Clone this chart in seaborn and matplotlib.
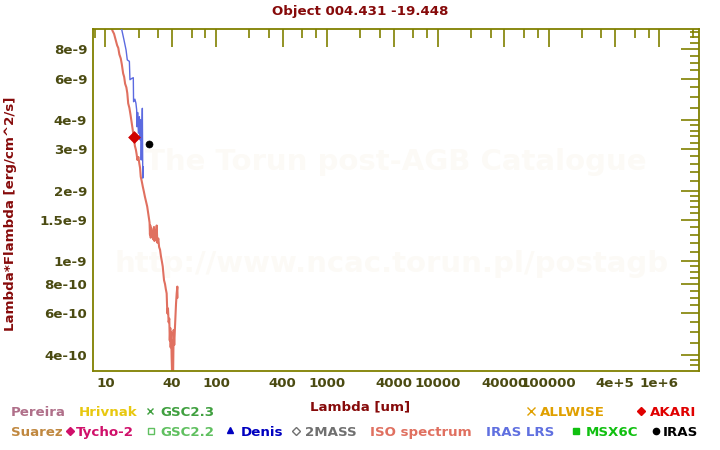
import matplotlib
matplotlib.use("Agg")
import matplotlib.pyplot as plt
import seaborn as sns
import pandas as pd
from matplotlib.ticker import FixedLocator, FixedFormatter, NullFormatter

# ---------------- data ----------------
iso_wl = [11.2, 11.6, 12.0, 12.3, 12.8, 13.1, 13.4, 13.8, 14.1, 14.5, 14.8, 15.1, 15.5,
          15.8, 16.1, 16.5, 16.9, 17.3, 17.7, 18.2, 18.5, 18.9, 19.2, 19.5, 19.9, 20.3,
          20.6, 20.9, 21.3, 21.8, 22.3, 22.8, 23.3, 23.9, 24.4, 24.9, 25.1, 25.3, 25.5,
          25.7, 26.0, 26.3, 26.8, 27.1, 27.5, 27.8, 28.2, 28.6, 29.1, 29.5, 30.1, 30.6,
          31.2, 31.8, 32.4, 33.0, 33.5, 33.9, 34.6, 35.2, 35.8, 36.1, 36.3, 36.8, 37.3,
          37.8, 38.2, 38.6, 38.9, 39.3, 39.7, 40.1, 40.5, 40.9, 41.4, 41.9, 42.6, 43.1,
          43.5, 44.1, 44.7, 44.9]
iso_flux = [1.02e-8, 9.6e-9, 9.3e-9, 8.9e-9, 8.3e-9, 8.1e-9, 7.6e-9, 7.3e-9, 6.9e-9, 6.3e-9,
            6.1e-9, 5.7e-9, 5.5e-9, 5.2e-9, 4.7e-9, 4.5e-9, 4.2e-9, 3.9e-9, 3.62e-9, 3.29e-9,
            3.1e-9, 2.98e-9, 2.85e-9, 2.70e-9, 2.78e-9, 2.6e-9, 2.5e-9, 2.29e-9, 2.2e-9,
            2.08e-9, 1.98e-9, 1.88e-9, 1.80e-9, 1.71e-9, 1.6e-9, 1.50e-9, 1.46e-9, 1.30e-9,
            1.42e-9, 1.26e-9, 1.38e-9, 1.30e-9, 1.34e-9, 1.24e-9, 1.40e-9, 1.22e-9, 1.35e-9,
            1.25e-9, 1.42e-9, 1.20e-9, 1.25e-9, 1.15e-9, 1.12e-9, 1.05e-9, 1.0e-9, 9.5e-10,
            8.8e-10, 8.3e-10, 8.0e-10, 7.6e-10, 7.3e-10, 6.5e-10, 6.0e-10, 6.3e-10, 5.5e-10,
            5.7e-10, 4.6e-10, 5.2e-10, 4.3e-10, 5.0e-10, 3.9e-10, 3.3e-10, 4.6e-10, 3.2e-10,
            5.1e-10, 4.4e-10, 5.3e-10, 6.0e-10, 6.6e-10, 7.3e-10, 7.8e-10, 7.0e-10]

lrs_wl = [13.9, 14.05, 14.75, 15.4, 15.8, 16.5, 16.7, 17.3, 17.9, 18.0, 18.5, 18.9, 19.2,
          19.3, 19.6, 19.9, 20.3, 20.6, 20.8, 21.1, 21.4, 21.6, 21.8, 22.0]
lrs_flux = [1.0e-8, 9.73e-9, 8.76e-9, 7.94e-9, 7.2e-9, 7.1e-9, 5.93e-9, 6.0e-9, 6.05e-9,
            4.78e-9, 4.9e-9, 4.71e-9, 4.41e-9, 3.74e-9, 4.3e-9, 3.51e-9, 4.13e-9, 3.29e-9,
            4.0e-9, 2.70e-9, 3.6e-9, 4.48e-9, 2.26e-9, 2.53e-9]

akari_wl = [18.0]
akari_flux = [3.38e-9]
iras_wl = [25.0]
iras_flux = [3.15e-9]

x_major = [10, 40, 100, 400, 1000, 4000, 1e4, 4e4, 1e5, 4e5, 1e6]
x_major_labels = ["10", "40", "100", "400", "1000", "4000", "10000", "40000",
                  "100000", "4e+5", "1e+6"]
x_minor = [8, 20, 30, 60, 80, 200, 300, 600, 800, 2000, 3000, 6000, 8000, 2e4, 3e4,
           6e4, 8e4, 2e5, 3e5, 6e5, 8e5, 2e6]
y_major = [4e-10, 6e-10, 8e-10, 1e-9, 1.5e-9, 2e-9, 3e-9, 4e-9, 6e-9, 8e-9]
y_major_labels = ["4e-10", "6e-10", "8e-10", "1e-9", "1.5e-9", "2e-9", "3e-9",
                  "4e-9", "6e-9", "8e-9"]
y_minor = [3.6e-10, 3.8e-10, 4.5e-10, 5e-10, 5.5e-10, 6.5e-10, 7e-10, 7.5e-10, 8.5e-10,
           9e-10, 9.5e-10, 1.1e-9, 1.2e-9, 1.3e-9, 1.4e-9, 1.6e-9, 1.7e-9, 1.8e-9, 1.9e-9,
           2.2e-9, 2.4e-9, 2.6e-9, 2.8e-9, 3.2e-9, 3.4e-9, 3.6e-9, 3.8e-9, 4.5e-9, 5e-9,
           5.5e-9, 6.5e-9, 7e-9, 7.5e-9, 8.5e-9, 9e-9, 9.5e-9]

title = "Object 004.431 -19.448"
xlabel = "Lambda [um]"
ylabel = "Lambda*Flambda [erg/cm^2/s]"

# ---------------- figure ----------------
sns.set_style("white")
plt.rcParams['font.family'] = ['DejaVu Sans']
plt.rcParams['font.weight'] = 'bold'

W, H = 720, 450
fig = plt.figure(figsize=(7.2, 4.5), dpi=100)
ax = fig.add_axes([92.7 / W, 1 - 371 / H, (699 - 92.7) / W, (371 - 29) / H])
ax.set_xscale('log')
ax.set_yscale('log')

OLIVE = '#808000'
TICKC = '#4b4b12'
DARKRED = '#860a0a'
FS = 9.6
WM = '#fcfaf6'

# watermark
ax.text(0.5, 1 - (162.5 - 29) / 342, "The Torun post-AGB Catalogue", transform=ax.transAxes,
        ha='center', va='center', fontsize=21, fontweight='bold', color=WM, zorder=0)
ax.text((391.5 - 92.7) / (699 - 92.7), 1 - (264 - 29) / 342, "http://www.ncac.torun.pl/postagb",
        transform=ax.transAxes, ha='center', va='center', fontsize=21, fontweight='bold',
        color=WM, zorder=0)

iso_df = pd.DataFrame({"wl": iso_wl, "flux": iso_flux})
lrs_df = pd.DataFrame({"wl": lrs_wl, "flux": lrs_flux})
sns.lineplot(data=iso_df, x="wl", y="flux", sort=False, estimator=None, color='#e07060',
             linewidth=1.5, ax=ax, legend=False, zorder=2)
sns.lineplot(data=lrs_df, x="wl", y="flux", sort=False, estimator=None, color='#5b6ae0',
             linewidth=1.0, ax=ax, legend=False, zorder=3)
sns.scatterplot(x=akari_wl, y=akari_flux, marker='D', s=36, color='#d00000',
                edgecolor='#d00000', ax=ax, legend=False, zorder=4)
sns.scatterplot(x=iras_wl, y=iras_flux, marker='o', s=26, color='black',
                edgecolor='black', ax=ax, legend=False, zorder=4)

ax.set_xlim(7.7, 2.28e6)
ax.set_ylim(3.41e-10, 9.75e-9)
ax.set_xlabel("")
ax.set_ylabel("")

ax.xaxis.set_major_locator(FixedLocator(x_major))
ax.xaxis.set_major_formatter(FixedFormatter(x_major_labels))
ax.xaxis.set_minor_locator(FixedLocator(x_minor))
ax.xaxis.set_minor_formatter(NullFormatter())
ax.yaxis.set_major_locator(FixedLocator(y_major))
ax.yaxis.set_major_formatter(FixedFormatter(y_major_labels))
ax.yaxis.set_minor_locator(FixedLocator(y_minor))
ax.yaxis.set_minor_formatter(NullFormatter())

ax.tick_params(which='both', direction='in', top=True, right=True, color=OLIVE, width=1.2)
ax.tick_params(which='major', length=13, pad=4, labelsize=FS, labelcolor=TICKC)
ax.tick_params(which='minor', length=6.7)
for lab in ax.get_xticklabels() + ax.get_yticklabels():
    lab.set_fontweight('bold')
for sp in ax.spines.values():
    sp.set_color(OLIVE)
    sp.set_linewidth(1.3)
    sp.set_visible(True)

# titles
fig.text(360 / W, 1 - 15 / H, title, ha='center', va='baseline', fontsize=FS,
         fontweight='bold', color=DARKRED)
fig.text(360 / W, 1 - 410 / H, xlabel, ha='center', va='baseline', fontsize=FS,
         fontweight='bold', color=DARKRED)
fig.text(11 / W, 1 - 214 / H, ylabel, ha='center', va='center', rotation=90,
         fontsize=FS, fontweight='bold', color=DARKRED)

# legend-like colored labels
def lab(x, ybase, s, c, fs=FS, ha='left'):
    fig.text(x / W, 1 - ybase / H, s, ha=ha, va='baseline', fontsize=fs,
             fontweight='bold', color=c)

def mark(x, yc, m, c, ms, filled=True):
    fig.add_artist(plt.Line2D([x / W], [1 - yc / H], marker=m, color=c, markersize=ms,
                              markerfacecolor=(c if filled else 'none'),
                              markeredgecolor=c, linestyle='none',
                              transform=fig.transFigure))

r1, r2 = 415.7, 435.7
c1, c2 = 410.5, 430.5
lab(10.7, r1, "Pereira", '#b0708a')
lab(78.3, r1, "Hrivnak", '#e8c810')
mark(150, c1, 'x', '#40a040', 4.5)
lab(160, r1, "GSC2.3", '#40a040')
mark(530.5, c1, 'x', '#e0a000', 5.5)
lab(540, r1, "ALLWISE", '#e0a000')
mark(641, c1, 'D', '#e00000', 4.5)
lab(650, r1, "AKARI", '#e00000')

lab(10.7, r2, "Suarez", '#c08840')
mark(69.7, c2, 'D', '#d0106a', 4.5)
lab(76, r2, "Tycho-2", '#d0106a')
mark(151, c2, 's', '#60c060', 4, filled=False)
lab(160, r2, "GSC2.2", '#60c060')
mark(230, c2 - 1, '^', '#0000c0', 4.5)
lab(240.7, r2, "Denis", '#0000c0')
mark(295.7, c2, 'D', '#707070', 4.5, filled=False)
lab(305, r2, "2MASS", '#707070')
lab(370, r2, "ISO spectrum", '#e07060')
lab(486, r2, "IRAS LRS", '#6070e0')
mark(575.5, c2, 's', '#10c010', 4.5)
lab(586, r2, "MSX6C", '#10c010')
mark(655.5, c2, 'o', 'black', 4.5)
lab(662.7, r2, "IRAS", 'black')

fig.savefig("out.png", dpi=100)
